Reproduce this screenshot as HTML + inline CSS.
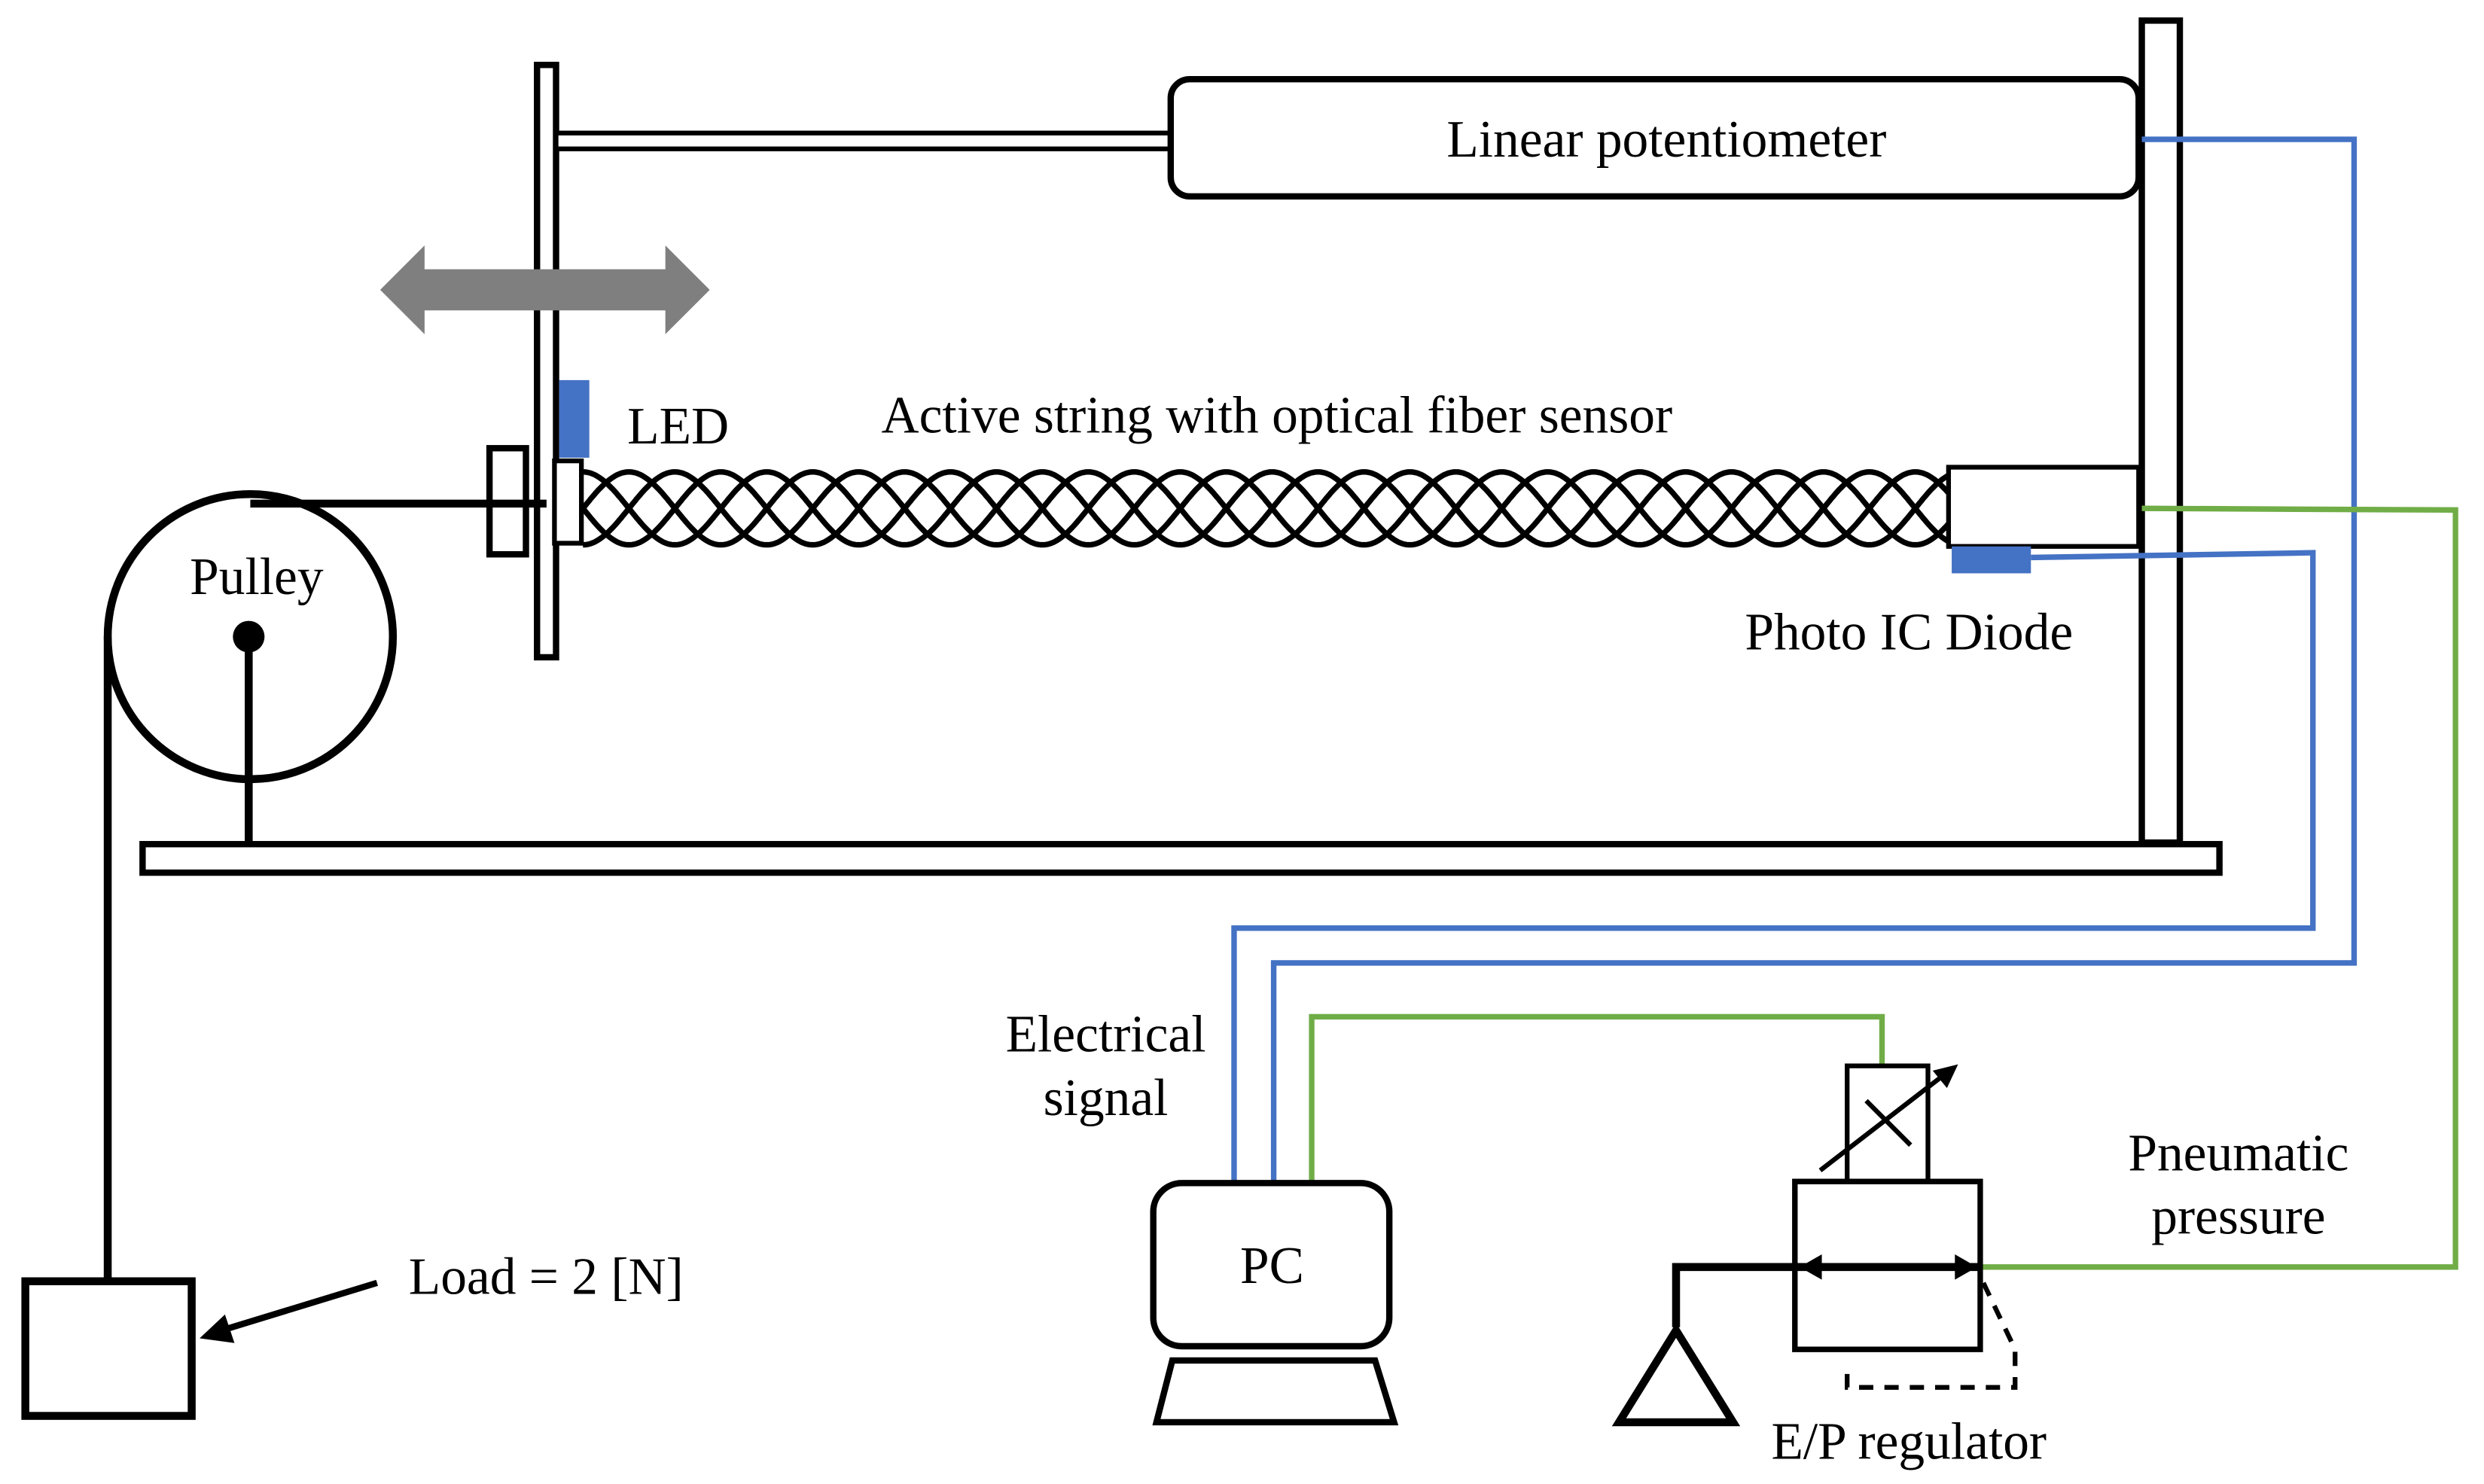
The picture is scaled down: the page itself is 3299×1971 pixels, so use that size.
<!DOCTYPE html>
<html><head><meta charset="utf-8"><style>
html,body{margin:0;padding:0;background:#fff;}
svg{display:block;}
text{font-family:"Liberation Serif",serif;font-size:33px;fill:#000;}
</style></head><body>
<svg width="3299" height="1971" viewBox="0 0 1568 937" preserveAspectRatio="none" xmlns="http://www.w3.org/2000/svg">
<rect width="1568" height="937" fill="#fff"/>
<rect x="90" y="533" width="1311" height="18" fill="#fff" stroke="#000" stroke-width="4"/>
<rect x="1352" y="13" width="24" height="519" fill="#fff" stroke="#000" stroke-width="4"/>
<rect x="339" y="41" width="12" height="374" fill="#fff" stroke="#000" stroke-width="4"/>
<rect x="351" y="84" width="388" height="10" fill="#fff" stroke="#000" stroke-width="3"/>
<rect x="739" y="50" width="611" height="74" rx="12" fill="#fff" stroke="#000" stroke-width="4"/>
<text x="1052" y="99" text-anchor="middle">Linear potentiometer</text>
<polygon points="240,183 268,155 268,170 420,170 420,155 448,183 420,211 420,196 268,196 268,211" fill="#7f7f7f"/>
<rect x="353" y="240" width="19" height="49" fill="#4472c4"/>
<text x="396" y="280">LED</text>
<rect x="309" y="283" width="23" height="67" fill="#fff" stroke="#000" stroke-width="4"/>
<rect x="350" y="291" width="17" height="52" fill="#fff" stroke="#000" stroke-width="3"/>
<line x1="158" y1="318" x2="345" y2="318" stroke="#000" stroke-width="5"/>
<g fill="none" stroke="#000" stroke-width="3.5" id="braid"></g>
<text x="806" y="273" text-anchor="middle">Active string with optical fiber sensor</text>
<rect x="1230" y="295" width="120" height="50" fill="#fff" stroke="#000" stroke-width="3"/>
<rect x="1232" y="345" width="50" height="17" fill="#4472c4"/>
<text x="1205" y="410" text-anchor="middle">Photo IC Diode</text>
<circle cx="158" cy="402" r="90" fill="none" stroke="#000" stroke-width="5"/>
<circle cx="157" cy="402" r="10" fill="#000"/>
<line x1="157" y1="402" x2="157" y2="533" stroke="#000" stroke-width="5"/>
<line x1="68" y1="402" x2="68" y2="810" stroke="#000" stroke-width="5"/>
<text x="162" y="375" text-anchor="middle">Pulley</text>
<rect x="16" y="809" width="105" height="85" fill="#fff" stroke="#000" stroke-width="5"/>
<line x1="238" y1="810" x2="140" y2="840" stroke="#000" stroke-width="4"/>
<polygon points="126,845 142,830 148,848" fill="#000"/>
<text x="258" y="817">Load = 2 [N]</text>
<polyline points="1352,88 1486,88 1486,608 804,608 804,746" fill="none" stroke="#4472c4" stroke-width="3.5"/>
<polyline points="1282,352 1460,349 1460,586 779,586 779,746" fill="none" stroke="#4472c4" stroke-width="3.5"/>
<polyline points="1352,321 1550,322 1550,800 1250,800" fill="none" stroke="#70ad47" stroke-width="3.5"/>
<polyline points="828,746 828,642 1188,642 1188,672" fill="none" stroke="#70ad47" stroke-width="3.5"/>
<text x="698" y="664" text-anchor="middle">Electrical</text>
<text x="698" y="704" text-anchor="middle">signal</text>
<text x="1413" y="739" text-anchor="middle">Pneumatic</text>
<text x="1413" y="779" text-anchor="middle">pressure</text>
<rect x="728" y="747" width="149" height="103" rx="18" fill="#fff" stroke="#000" stroke-width="4"/>
<text x="803" y="810" text-anchor="middle">PC</text>
<polygon points="740,859 868,859 880,898 730,898" fill="#fff" stroke="#000" stroke-width="4"/>
<rect x="1166" y="673" width="51" height="73" fill="#fff" stroke="#000" stroke-width="3"/>
<rect x="1133" y="746" width="117" height="106" fill="#fff" stroke="#000" stroke-width="3.5"/>
<line x1="1178" y1="695" x2="1206" y2="723" stroke="#000" stroke-width="3"/>
<line x1="1149" y1="739" x2="1228" y2="678" stroke="#000" stroke-width="3"/>
<polygon points="1236,672 1220,676 1229,687" fill="#000"/>
<polyline points="1058,838 1058,800 1250,800" fill="none" stroke="#000" stroke-width="5"/>
<polygon points="1136,800 1150,792 1150,808" fill="#000"/>
<polygon points="1248,800 1234,792 1234,808" fill="#000"/>
<polygon points="1058,840 1094,898 1022,898" fill="#fff" stroke="#000" stroke-width="5"/>
<polyline points="1252,810 1272,852 1272,876 1166,876 1166,865" fill="none" stroke="#000" stroke-width="3" stroke-dasharray="9,7"/>
<text x="1205" y="921" text-anchor="middle">E/P regulator</text>
</svg>
<script>
(function(){
var g=document.getElementById('braid');var ns="http://www.w3.org/2000/svg";
var x0=368,x1=1230,P=116,A=23,yc=321;
for(var k=0;k<4;k++){var d="";for(var x=x0;x<=x1;x+=1){var y=yc+A*Math.sin(2*Math.PI*(x-x0)/P+k*Math.PI/2);d+=(x==x0?"M":"L")+x+","+y.toFixed(1);}
var p=document.createElementNS(ns,"path");p.setAttribute("d",d);g.appendChild(p);}
})();
</script>
</body></html>
